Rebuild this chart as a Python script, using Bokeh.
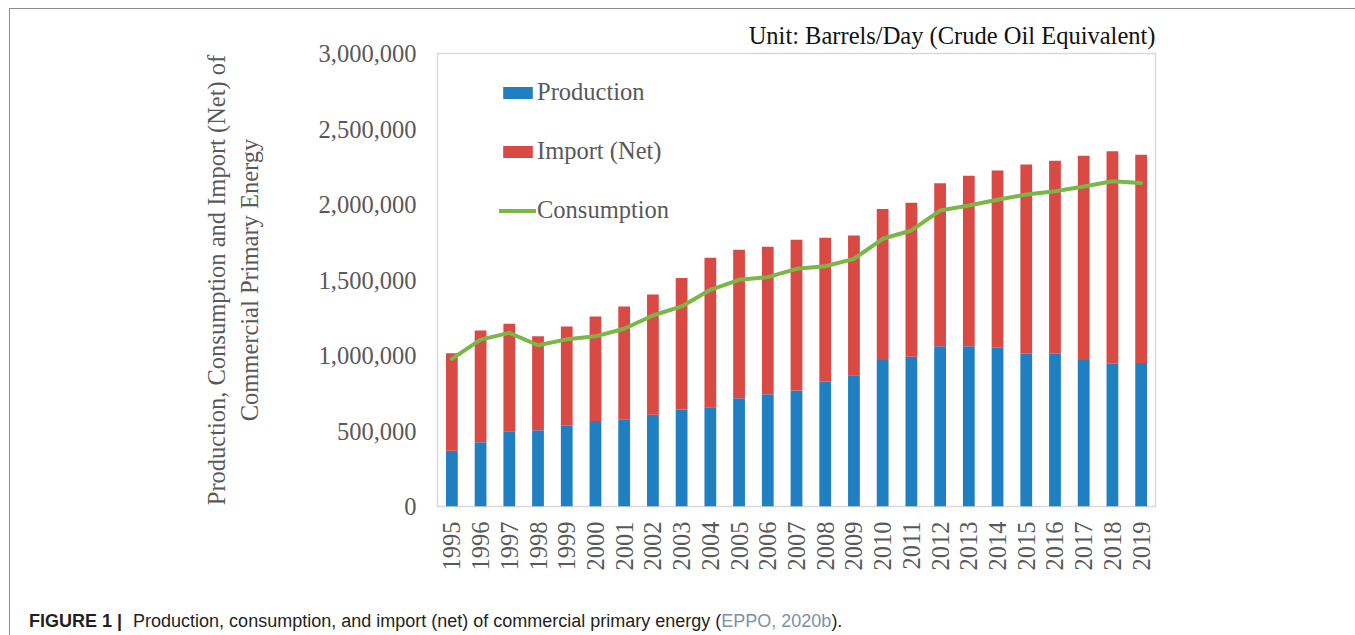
import math
from bokeh.plotting import figure
from bokeh.layouts import column
from bokeh.models import (FactorRange, Range1d, FixedTicker, NumeralTickFormatter,
                          Legend, LegendItem, ColumnDataSource, Div)
from bokeh.embed import file_html
from bokeh.resources import INLINE

# ---------------- data ----------------
years = ["1995", "1996", "1997", "1998", "1999", "2000", "2001", "2002", "2003",
         "2004", "2005", "2006", "2007", "2008", "2009", "2010", "2011", "2012",
         "2013", "2014", "2015", "2016", "2017", "2018", "2019"]
production = [370000, 426000, 499000, 505000, 534000, 567000, 574000, 607000, 642000,
              658000, 717000, 744000, 768000, 826000, 870000, 970000, 992000, 1061000,
              1061000, 1051000, 1011000, 1011000, 971000, 945000, 951000]
import_net = [645000, 740000, 711000, 623000, 658000, 691000, 751000, 797000, 872000,
              989000, 983000, 976000, 998000, 953000, 925000, 1001000, 1019000, 1080000,
              1129000, 1174000, 1254000, 1279000, 1352000, 1408000, 1378000]
consumption = [978000, 1105000, 1150000, 1068000, 1107000, 1127000, 1177000, 1265000, 1325000,
               1435000, 1501000, 1519000, 1574000, 1591000, 1640000, 1773000, 1828000, 1960000,
               1993000, 2031000, 2066000, 2088000, 2119000, 2154000, 2143000]
y_ticks = [0, 500000, 1000000, 1500000, 2000000, 2500000, 3000000]
series_names = ["Production", "Import (Net)", "Consumption"]
unit_text = "Unit: Barrels/Day (Crude Oil Equivalent)"
y_title = "Production, Consumption and Import (Net) of\nCommercial Primary Energy"

# ---------------- style ----------------
BLUE = "#1f7fc1"
RED = "#da4a45"
GREEN = "#7ab648"
GREY_TXT = "#595959"
SERIF = "Liberation Serif"
FS = "24.5px"

W, H = 1343, 598
FL, FR, FT, FB_ = 427, 1145, 44, 497   # plot frame in canvas px

src = ColumnDataSource(dict(year=years, production=production,
                            import_net=import_net, consumption=consumption))

p = figure(x_range=FactorRange(*years), y_range=Range1d(0, 3000000),
           width=W, height=H, output_backend="svg", toolbar_location=None,
           min_border_left=FL, min_border_right=W - FR, min_border_top=FT,
           min_border_bottom=H - FB_)
p.background_fill_color = "white"
p.border_fill_color = "white"
p.outline_line_color = "#d9d9d9"
p.outline_line_width = 1.5
p.xgrid.visible = False
p.ygrid.visible = False

p.title.text = unit_text
p.title.align = "right"
p.title.text_font = SERIF
p.title.text_font_size = FS
p.title.text_font_style = "normal"
p.title.text_color = "#111111"
p.title.standoff = 9

bars = p.vbar_stack(["production", "import_net"], x="year", width=0.41,
                    fill_color=[BLUE, RED], line_color=None, source=src)
ln = p.line(x="year", y="consumption", source=src, line_color=GREEN,
            line_width=4, line_join="round", line_cap="round")

for ax in (p.xaxis[0], p.yaxis[0]):
    ax.axis_line_color = None
    ax.major_tick_line_color = None
    ax.minor_tick_line_color = None
    ax.major_tick_out = 0
    ax.major_tick_in = 0
    ax.major_label_text_font = SERIF
    ax.major_label_text_font_size = FS
    ax.major_label_text_color = GREY_TXT

p.yaxis[0].ticker = FixedTicker(ticks=y_ticks)
p.yaxis[0].formatter = NumeralTickFormatter(format="0,0")
p.yaxis[0].major_label_standoff = 21
p.yaxis[0].axis_label = y_title
p.yaxis[0].axis_label_text_font = SERIF
p.yaxis[0].axis_label_text_font_size = FS
p.yaxis[0].axis_label_text_font_style = "normal"
p.yaxis[0].axis_label_text_color = GREY_TXT
p.yaxis[0].axis_label_standoff = 53
p.xaxis[0].major_label_orientation = math.pi / 2
p.xaxis[0].major_label_standoff = 15

legend = Legend(items=[LegendItem(label=series_names[0], renderers=[bars[0]]),
                       LegendItem(label=series_names[1], renderers=[bars[1]]),
                       LegendItem(label=series_names[2], renderers=[ln])],
                location=(62, 282), orientation="vertical",
                background_fill_alpha=0, border_line_color=None,
                glyph_width=37, glyph_height=15, label_height=26, spacing=31,
                padding=0, margin=0, label_standoff=1,
                label_text_font=SERIF, label_text_font_size=FS,
                label_text_color=GREY_TXT)
p.add_layout(legend)

caption = Div(
    text=('<b style="margin-right:11px">FIGURE 1 |</b>Production, consumption, and import (net) '
          'of commercial primary energy (<span style="color:#7d8fa8">EPPO, 2020b</span>).'),
    width=W, height=26,
    styles={"font-family": "'Liberation Sans', Arial, sans-serif", "font-size": "18px",
            "color": "#231f20", "padding-left": "14px", "line-height": "18px"})

page = column(p, caption, margin=(8, 0, 0, 9),
              styles={"border-top": "1px solid #8c8c8c", "border-left": "1px solid #8c8c8c",
                      "border-right": "1px solid #8c8c8c", "background": "white"})

open("out.html", "w").write(file_html(page, INLINE))
